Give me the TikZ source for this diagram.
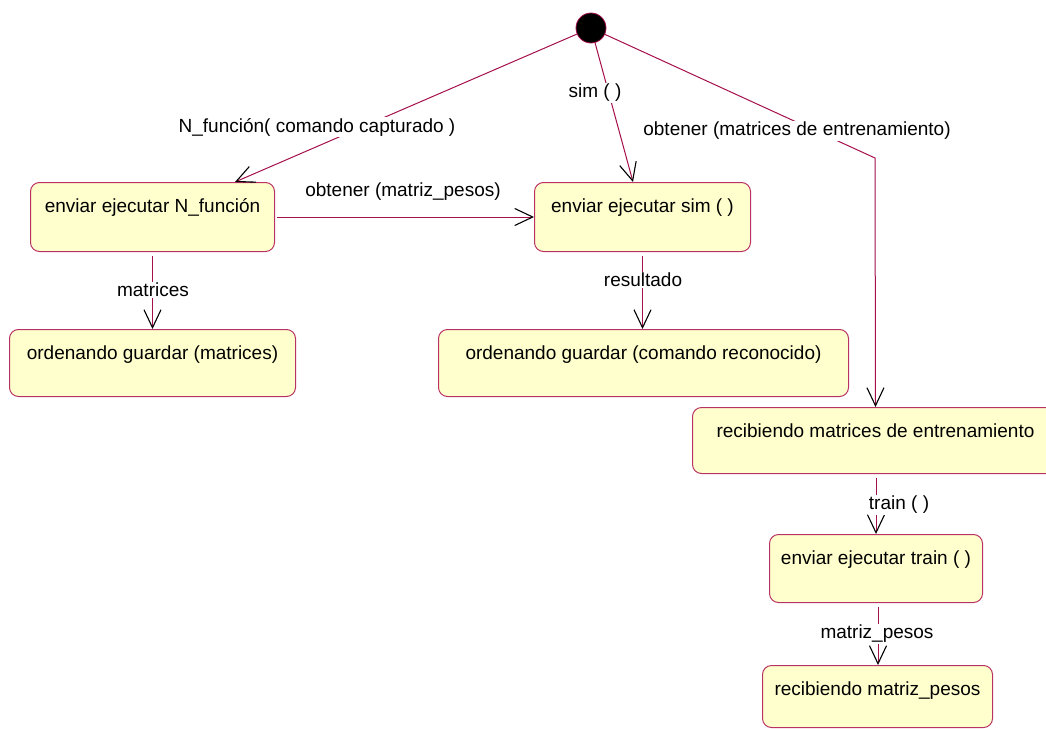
\documentclass[tikz,border=0pt]{standalone}
\usepackage{fontspec}
\setmainfont{Liberation Sans}
\usetikzlibrary{arrows.meta}
\definecolor{wire}{RGB}{165,15,75}
\definecolor{boxline}{RGB}{185,50,100}
\definecolor{boxfill}{RGB}{255,255,205}
\begin{document}
\begin{tikzpicture}[x=1pt,y=-1pt,
  txt/.style={font=\fontsize{19}{23}\selectfont},
  state/.style 2 args={txt, draw=boxline, line width=1pt, fill=boxfill,
    rounded corners=9pt, inner sep=0pt, anchor=north west,
    minimum width=#1, text height=30pt, text depth=#2},
  initial/.style={circle, fill=black, draw=wire, line width=0.8pt,
    minimum size=30pt, inner sep=0pt},
  trans/.style={draw=wire, line width=1pt,
    -{Straight Barb[length=18pt,width=17pt,color=black,line width=1.1pt]}},
  lbl/.style={txt, fill=white, inner sep=1pt}]
\useasboundingbox (0,0) rectangle (1046,728);
\clip (0,0) rectangle (1046,728);

% initial pseudo-state
\node[initial] (start) at (591,28) {};

% states
\node[state={244pt}{39pt}] (nf)  at (30,182)  {enviar ejecutar N\_función};
\node[state={216pt}{39pt}] (sim) at (534,182) {enviar ejecutar sim ( )};
\node[state={286pt}{37pt}] (gm)  at (9,329)   {ordenando guardar (matrices)};
\node[state={410pt}{37pt}] (gc)  at (438,329) {ordenando guardar (comando reconocido)};
\node[state={366pt}{36pt}] (rme) at (692,407) {recibiendo matrices de entrenamiento};
\node[state={213pt}{38pt}] (et)  at (769,534) {enviar ejecutar train ( )};
\node[state={230pt}{32pt}] (rmp) at (762,665) {recibiendo matriz\_pesos};

\coordinate (bend) at (875,158);

% transitions
\draw[trans] (start) -- ([xshift=205pt]nf.north west);
\draw[trans] (start) -- ([xshift=99pt]sim.north west);
\draw[trans] (start) -- (bend) -- (rme.north);
\draw[trans, shorten <=2pt] (nf.east) -- (sim.west);
\draw[trans, shorten <=4pt] (nf.south) -- (gm.north);
\draw[trans, shorten <=4pt] (sim.south) -- (sim.south |- gc.north);
\draw[trans, shorten <=4pt] (rme.south -| et.north) -- (et.north);
\draw[trans, shorten <=4pt] ([xshift=2pt]et.south) -- ([xshift=2pt]et.south |- rmp.north);

% transition labels
\node[lbl] (l1) at (317,127) {N\_función( comando capturado )};
\node[lbl] (l2) at (595,93)  {sim ( )};
\node[lbl] (l3) at (797,131) {obtener (matrices de entrenamiento)};
\node[lbl] (l4) at (403,192) {obtener (matriz\_pesos)};
\node[lbl] (l5) at (153,290) {matrices};
\node[lbl] (l6) at (643,280) {resultado};
\node[lbl] (l7) at (899,505) {train ( )};
\node[lbl] (l8) at (877,634) {matriz\_pesos};
\end{tikzpicture}
\end{document}
